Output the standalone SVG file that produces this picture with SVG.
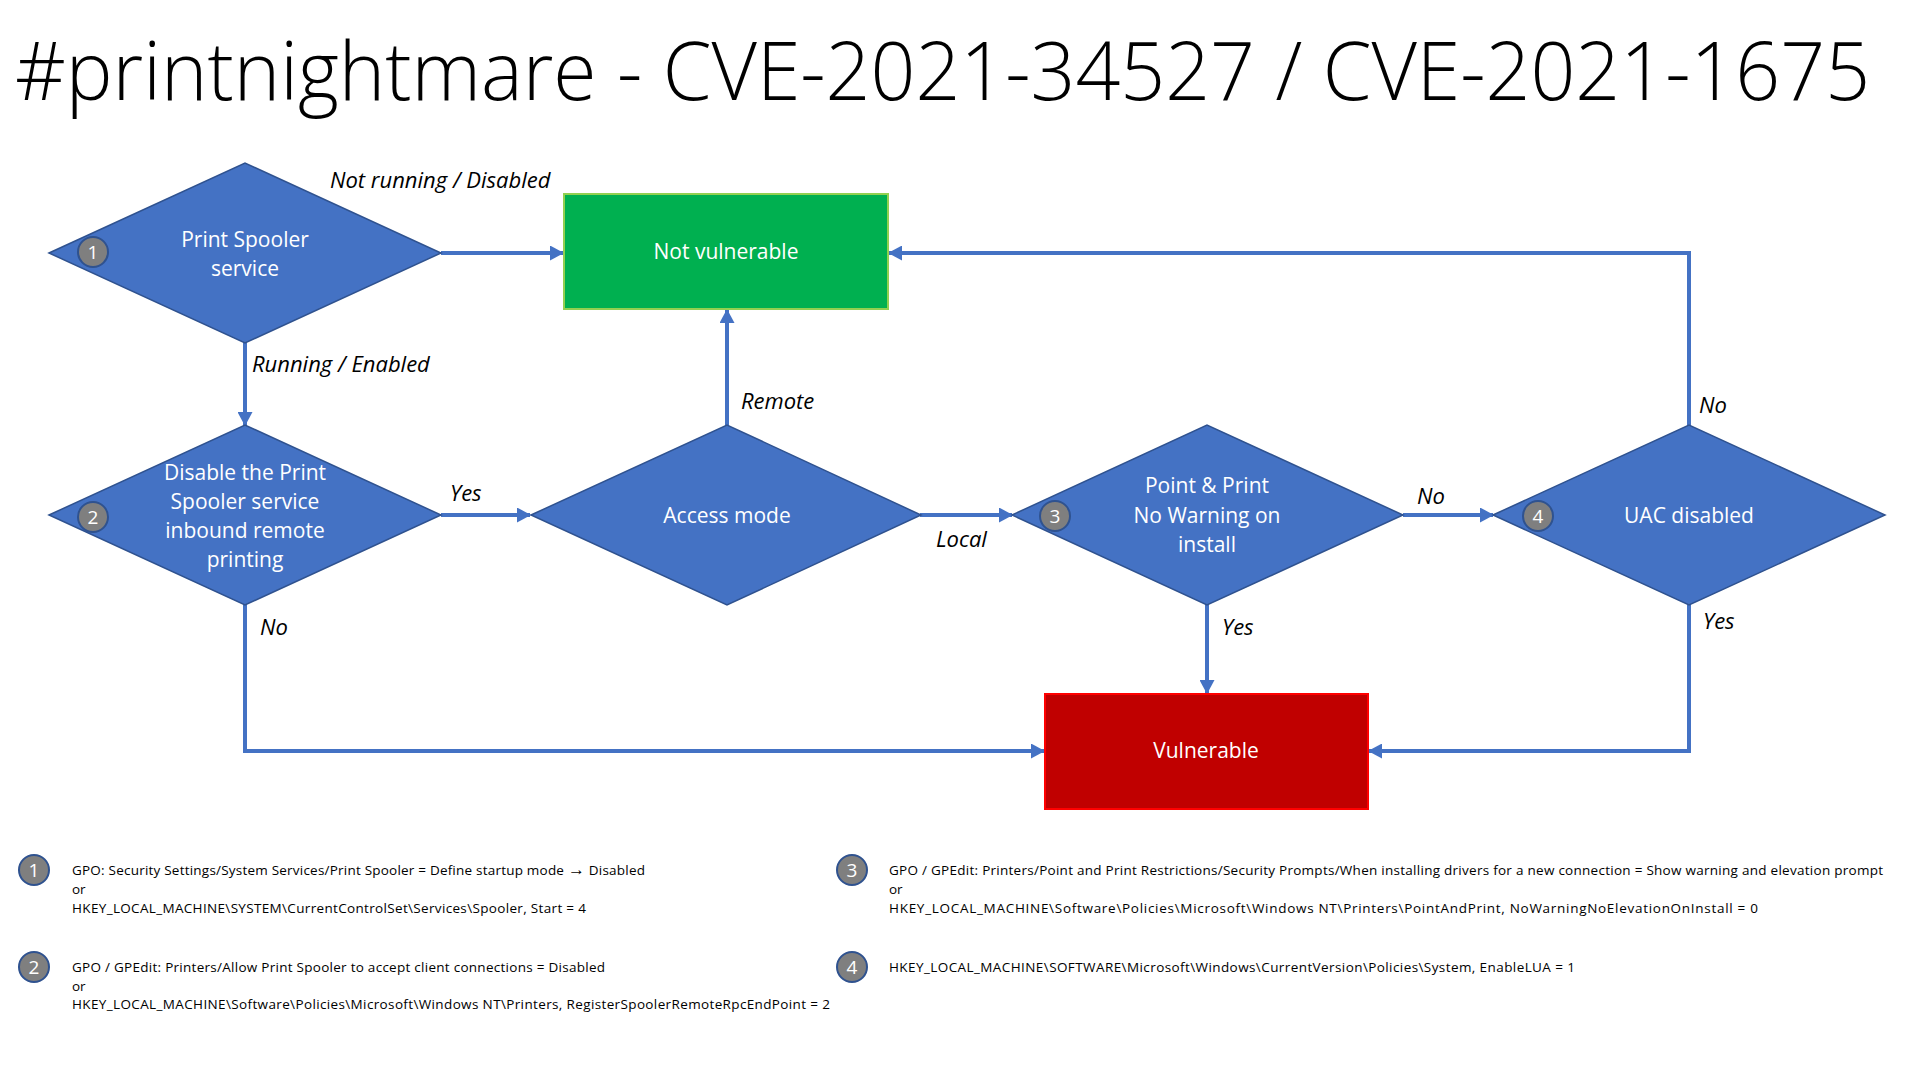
<svg xmlns="http://www.w3.org/2000/svg" width="1919" height="1079" viewBox="0 0 1919 1079">
<style>
.title{font-family:"Open Sans","Liberation Sans",sans-serif;font-size:82px;font-weight:300;fill:#000}
.dia{fill:#4472C4;stroke:#2F528F;stroke-width:1.5}
.nt{font-family:"Open Sans","Liberation Sans",sans-serif;font-size:21px;fill:#fff;text-anchor:middle}
.badge{fill:#7F7F7F;stroke:#2F528F;stroke-width:2}
.bt{font-family:"Open Sans","Liberation Sans",sans-serif;font-size:19px;fill:#fff;text-anchor:middle}
.lbl{font-family:"Open Sans","Liberation Sans",sans-serif;font-size:22px;font-style:italic;fill:#000}
.conn{fill:none;stroke:#4472C4;stroke-width:4;marker-end:url(#ah)}
.leg{font-family:"Open Sans","Liberation Sans",sans-serif;font-size:13.5px;fill:#000}
</style>
<defs>
<marker id="ah" markerUnits="userSpaceOnUse" markerWidth="14" markerHeight="15" refX="13" refY="7.5" orient="auto">
<path d="M0,0 L14,7.5 L0,15 z" fill="#4472C4"/>
</marker>
</defs>
<rect width="1919" height="1079" fill="#fff"/>
<text class="title" transform="translate(15,100) scale(0.88,1)" x="0" y="0" textLength="2108" lengthAdjust="spacingAndGlyphs">#printnightmare - CVE-2021-34527 / CVE-2021-1675</text>

<g id="connectors">
<path class="conn" d="M441,253 L563,253"/>
<path class="conn" d="M245,343 L245,425"/>
<path class="conn" d="M441,515 L530,515"/>
<path class="conn" d="M727,425 L727,310"/>
<path class="conn" d="M920,515 L1012,515"/>
<path class="conn" d="M1403,515 L1493,515"/>
<path class="conn" d="M1689,425 L1689,253 L889,253"/>
<path class="conn" d="M1207,605 L1207,693"/>
<path class="conn" d="M245,605 L245,751 L1044,751"/>
<path class="conn" d="M1689,605 L1689,751 L1369,751"/>
<text class="lbl" x="330" y="188">Not running / Disabled</text>
<text class="lbl" x="252" y="372">Running / Enabled</text>
<text class="lbl" x="450" y="501">Yes</text>
<text class="lbl" x="741" y="409">Remote</text>
<text class="lbl" x="936" y="547">Local</text>
<text class="lbl" x="1417" y="504">No</text>
<text class="lbl" x="1699" y="413">No</text>
<text class="lbl" x="260" y="635">No</text>
<text class="lbl" x="1222" y="635">Yes</text>
<text class="lbl" x="1703" y="629">Yes</text>
</g>

<g id="n1">
<polygon class="dia" points="49,253 245,163 441,253 245,343"/>
<circle class="badge" cx="93" cy="252" r="15"/>
<text class="bt" x="93" y="259">1</text>
<text class="nt" x="245" y="247">Print Spooler</text>
<text class="nt" x="245" y="276">service</text>
</g>

<g id="notvuln">
<rect x="564" y="194" width="324" height="115" fill="#00B050" stroke="#92D050" stroke-width="2"/>
<text class="nt" x="726" y="259">Not vulnerable</text>
</g>

<g id="n2">
<polygon class="dia" points="49,515 245,425 441,515 245,605"/>
<circle class="badge" cx="93" cy="517" r="15"/>
<text class="bt" x="93" y="524">2</text>
<text class="nt" x="245" y="480">Disable the Print</text>
<text class="nt" x="245" y="509">Spooler service</text>
<text class="nt" x="245" y="538">inbound remote</text>
<text class="nt" x="245" y="567">printing</text>
</g>

<g id="access">
<polygon class="dia" points="531,515 727,425 921,515 727,605"/>
<text class="nt" x="727" y="523">Access mode</text>
</g>

<g id="n3">
<polygon class="dia" points="1012,515 1207,425 1403,515 1207,605"/>
<circle class="badge" cx="1055" cy="516" r="15"/>
<text class="bt" x="1055" y="523">3</text>
<text class="nt" x="1207" y="493">Point &amp; Print</text>
<text class="nt" x="1207" y="523">No Warning on</text>
<text class="nt" x="1207" y="552">install</text>
</g>

<g id="n4">
<polygon class="dia" points="1493,515 1689,425 1885,515 1689,605"/>
<circle class="badge" cx="1538" cy="516" r="15"/>
<text class="bt" x="1538" y="523">4</text>
<text class="nt" x="1689" y="523">UAC disabled</text>
</g>

<g id="vuln">
<rect x="1045" y="694" width="323" height="115" fill="#C00000" stroke="#FF0000" stroke-width="2"/>
<text class="nt" x="1206" y="758">Vulnerable</text>
</g>

<g id="legend">
<circle class="badge" cx="34" cy="870" r="15"/>
<text class="bt" x="34" y="877">1</text>
<text class="leg" x="72" y="875" textLength="573">GPO: Security Settings/System Services/Print Spooler = Define startup mode <tspan font-size="17" font-weight="bold">→</tspan> Disabled</text>
<text class="leg" x="72" y="894">or</text>
<text class="leg" x="72" y="913" textLength="514">HKEY_LOCAL_MACHINE\SYSTEM\CurrentControlSet\Services\Spooler, Start = 4</text>

<circle class="badge" cx="34" cy="967" r="15"/>
<text class="bt" x="34" y="974">2</text>
<text class="leg" x="72" y="972" textLength="533">GPO / GPEdit: Printers/Allow Print Spooler to accept client connections = Disabled</text>
<text class="leg" x="72" y="991">or</text>
<text class="leg" x="72" y="1009" textLength="758">HKEY_LOCAL_MACHINE\Software\Policies\Microsoft\Windows NT\Printers, RegisterSpoolerRemoteRpcEndPoint = 2</text>

<circle class="badge" cx="852" cy="870" r="15"/>
<text class="bt" x="852" y="877">3</text>
<text class="leg" x="889" y="875" textLength="994">GPO / GPEdit: Printers/Point and Print Restrictions/Security Prompts/When installing drivers for a new connection = Show warning and elevation prompt</text>
<text class="leg" x="889" y="894">or</text>
<text class="leg" x="889" y="913" textLength="869">HKEY_LOCAL_MACHINE\Software\Policies\Microsoft\Windows NT\Printers\PointAndPrint, NoWarningNoElevationOnInstall = 0</text>

<circle class="badge" cx="852" cy="967" r="15"/>
<text class="bt" x="852" y="974">4</text>
<text class="leg" x="889" y="972" textLength="686">HKEY_LOCAL_MACHINE\SOFTWARE\Microsoft\Windows\CurrentVersion\Policies\System, EnableLUA = 1</text>
</g>
</svg>
